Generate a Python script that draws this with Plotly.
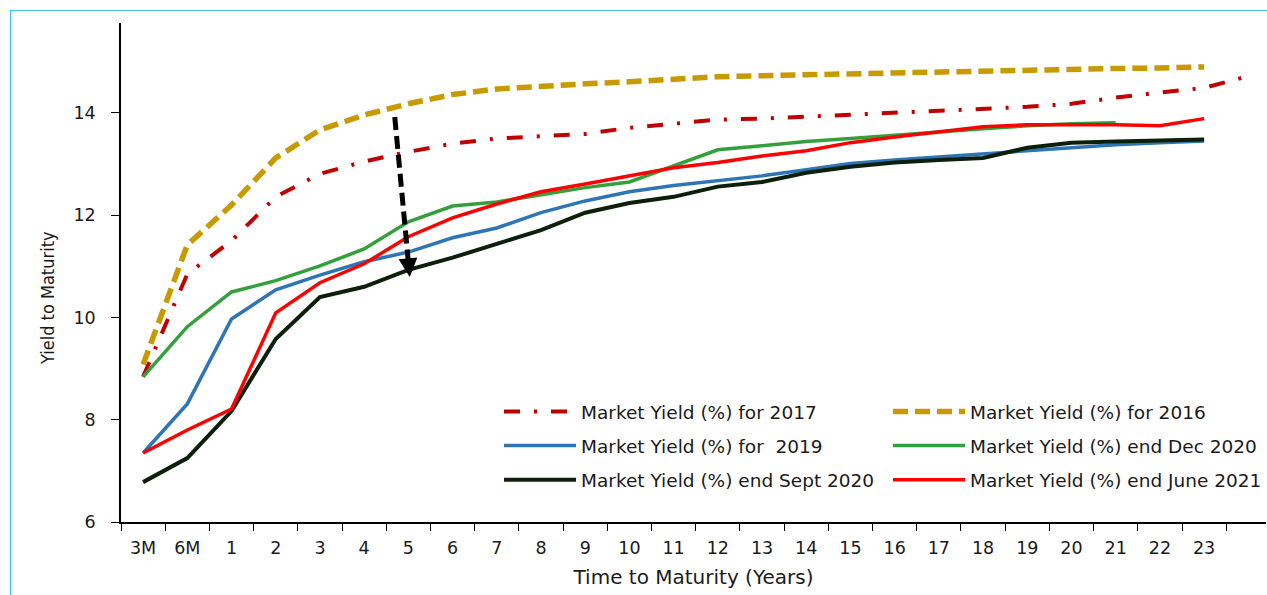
import plotly.graph_objects as go

categories = ["3M", "6M"] + [str(i) for i in range(1, 24)] + [" "]

y2017 = [8.84, 10.85, 11.50, 12.36, 12.81, 13.05, 13.24, 13.40, 13.50, 13.55, 13.59, 13.71,
         13.79, 13.87, 13.89, 13.93, 13.96, 14.00, 14.04, 14.08, 14.12, 14.18, 14.30, 14.40,
         14.49, 14.72]
y2016 = [9.08, 11.42, 12.20, 13.12, 13.67, 13.96, 14.18, 14.36, 14.47, 14.53, 14.57, 14.61,
         14.67, 14.71, 14.73, 14.75, 14.75, 14.77, 14.79, 14.81, 14.83, 14.85, 14.87, 14.88,
         14.90]
y2019 = [7.35, 8.31, 9.97, 10.54, 10.83, 11.09, 11.28, 11.56, 11.75, 12.05, 12.28, 12.46,
         12.58, 12.67, 12.77, 12.89, 13.01, 13.08, 13.14, 13.20, 13.26, 13.32, 13.38, 13.42,
         13.45]
ydec2020 = [8.84, 9.82, 10.50, 10.72, 11.01, 11.34, 11.87, 12.18, 12.26, 12.40, 12.54, 12.65,
            12.97, 13.28, 13.36, 13.44, 13.50, 13.57, 13.63, 13.69, 13.75, 13.79, 13.81]
ysep2020 = [6.78, 7.25, 8.17, 9.58, 10.40, 10.60, 10.93, 11.17, 11.44, 11.71, 12.05, 12.24,
            12.36, 12.56, 12.65, 12.83, 12.95, 13.03, 13.08, 13.12, 13.32, 13.42, 13.44, 13.46,
            13.48]
yjun2021 = [7.35, 7.80, 8.21, 10.09, 10.68, 11.05, 11.58, 11.95, 12.22, 12.46, 12.61, 12.77,
            12.93, 13.03, 13.16, 13.26, 13.42, 13.53, 13.63, 13.73, 13.77, 13.77, 13.77, 13.75,
            13.89]

ytick_vals = [6, 8, 10, 12, 14]

W, H = 1267, 595
ML, MR, MT, MB = 121, 0, 23, 73
PW = W - ML - MR
PH = H - MT - MB


def px_x(p):
    return (p - ML) / PW


def px_y(p):
    return (H - MB - p) / PH


fig = go.Figure()

series = [
    ("Market Yield (%) for 2017", y2017, "#C00000", 4, "16px,14px,3px,14px", "legend"),
    ("Market Yield (%) for 2016", y2016, "#C89A00", 5.5, "15px,7px", "legend2"),
    ("Market Yield (%) for  2019", y2019, "#2E75B6", 3.5, "solid", "legend"),
    ("Market Yield (%) end Dec 2020", ydec2020, "#33A03C", 3.5, "solid", "legend2"),
    ("Market Yield (%) end Sept 2020", ysep2020, "#0B1F0B", 4, "solid", "legend"),
    ("Market Yield (%) end June 2021", yjun2021, "#FF0000", 3.5, "solid", "legend2"),
]

for i, (name, vals, color, width, dash, leg) in enumerate(series):
    fig.add_trace(go.Scatter(
        x=categories[:len(vals)], y=vals, name=name, mode="lines",
        line=dict(color=color, width=width, dash=dash),
        legend=leg, legendgroup="g%d" % i,
    ))

FAM = "DejaVu Sans, Verdana, sans-serif"
tick_font = dict(family=FAM, size=17.5, color="#1a1a1a")
leg_font = dict(family=FAM, size=18.5, color="#1a1a1a")

fig.update_layout(
    width=W, height=H,
    margin=dict(l=ML, r=MR, t=MT, b=MB),
    paper_bgcolor="white", plot_bgcolor="white",
    font=tick_font,
    xaxis=dict(
        type="category", categoryorder="array", categoryarray=categories,
        range=[-0.5, 25.4], tickson="boundaries", ticks="outside", ticklen=7,
        tickcolor="black", tickwidth=1.3, showline=True, linecolor="black", linewidth=1.5,
        showgrid=False, zeroline=False, tickfont=tick_font, ticklabelstandoff=9,
        title=dict(text="Time to Maturity (Years)",
                   font=dict(family=FAM, size=20, color="#1a1a1a"),
                   standoff=13),
    ),
    yaxis=dict(
        range=[6, 15.76], tickvals=ytick_vals, ticks="outside", ticklen=8,
        tickcolor="black", tickwidth=1.3, showline=True, linecolor="black", linewidth=1.5,
        showgrid=False, zeroline=False, tickfont=tick_font, ticklabelstandoff=12,
    ),
    legend=dict(
        x=px_x(499), y=px_y(393), xanchor="left", yanchor="top",
        bgcolor="rgba(0,0,0,0)", tracegroupgap=7, font=leg_font, itemwidth=72,
    ),
    legend2=dict(
        x=px_x(889), y=px_y(393), xanchor="left", yanchor="top",
        bgcolor="rgba(0,0,0,0)", tracegroupgap=7, font=leg_font, itemwidth=72,
    ),
    showlegend=True,
)

# y-axis title placed like the reference (below centre)
fig.add_annotation(xref="paper", yref="paper", x=px_x(47), y=px_y(298),
                   text="Yield to Maturity", textangle=-90, showarrow=False,
                   xanchor="center", yanchor="middle",
                   font=dict(family="DejaVu Sans Condensed, Roboto Condensed, Roboto, sans-serif",
                             size=18, color="#1a1a1a"))

# dashed arrow (annotation graphic)
fig.add_shape(type="line", xref="paper", yref="paper",
              x0=px_x(395), y0=px_y(117), x1=px_x(409), y1=px_y(266),
              line=dict(color="black", width=5, dash="13px,6px"))
fig.add_annotation(xref="paper", yref="paper", x=px_x(410), y=px_y(277),
                   ax=-1.3, ay=-14, showarrow=True, arrowhead=2, arrowsize=0.75,
                   arrowwidth=5, arrowcolor="black", text="")

# outer light-blue frame
fig.add_shape(type="rect", xref="paper", yref="paper",
              x0=px_x(10.5), y0=px_y(620), x1=px_x(1300), y1=px_y(10.5),
              line=dict(color="#38C6F4", width=1.2), layer="below")

fig.write_html("out.html", config={"displayModeBar": False},
               post_script="document.body.style.margin='0';")
